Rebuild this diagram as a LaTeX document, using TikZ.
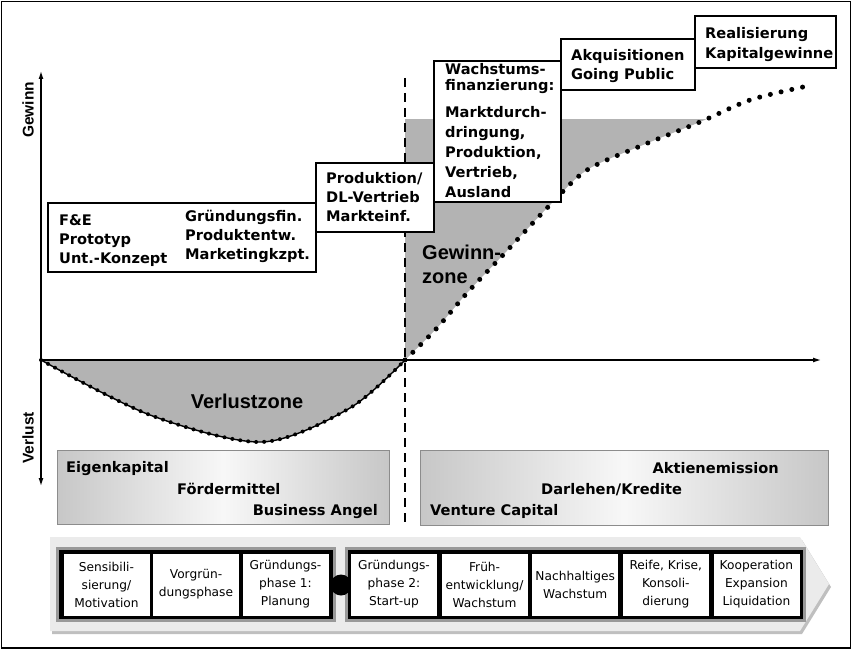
\documentclass[tikz,border=0pt]{standalone}
\usepackage{fontspec}
\setmainfont{DejaVu Sans}
\newfontfamily\arialfont{Liberation Sans}
\usetikzlibrary{positioning,arrows.meta}
\definecolor{zoneGray}{HTML}{B3B3B3}
\definecolor{frameGray}{HTML}{999999}
\definecolor{chevronGray}{HTML}{EBEBEB}

\begin{document}
\begin{tikzpicture}[x=1pt, y=-1pt,
    infoBox/.style={rectangle, draw=black, line width=2.6pt, fill=white, inner sep=0pt},
    infoText/.style={anchor=north west, inner sep=0pt, align=left, font=\bfseries\fontsize{14.6}{19}\selectfont},
    fundBox/.style={rectangle, draw=black!45, line width=0.8pt, left color=black!22, right color=black!22, middle color=black!3},
    fundText/.style={inner sep=0pt, font=\bfseries\fontsize{14.6}{16}\selectfont},
    zoneText/.style={inner sep=0pt, font=\arialfont\bfseries\fontsize{20}{24}\selectfont},
    axisLabel/.style={inner sep=0pt, rotate=90, font=\arialfont\bfseries\fontsize{15.5}{16}\selectfont},
    axisArrow/.style={-{Latex[length=8pt,width=5pt]}, line width=1.2pt},
    phaseBox/.style={rectangle, draw=black, line width=0.8pt, fill=white, minimum width=87pt, minimum height=63pt, inner sep=1pt, align=center, font=\fontsize{12.2}{18}\selectfont},
    dotLine/.style={line width=5pt, line cap=round, dash pattern=on 0pt off 11pt}
]
    \useasboundingbox (0,0) rectangle (853,650);
    \draw[line width=1.5pt] (1.5,1.5) rectangle (850.5,648);

    % zones
    \fill[zoneGray] plot[smooth] coordinates {(41,360) (150,415) (262,442) (350,408) (405,360)} -- cycle;
    \begin{scope}
        \clip (405,120) rectangle (830,360);
        \fill[zoneGray] plot[smooth] coordinates {(405,360) (437,328) (467,293) (503,255) (550,205) (587,170) (643,145) (700,122) (750,100) (803,87)} -- (405,80) -- cycle;
    \end{scope}

    % axes
    \coordinate (origin) at (41,360);
    \coordinate (yTop) at (41,71);
    \coordinate (yBottom) at (41,486);
    \coordinate (xEnd) at (821,360);
    \draw[axisArrow] (origin) -- (yTop);
    \draw[axisArrow] (origin) -- (yBottom);
    \draw[axisArrow] (origin) -- (xEnd);
    \node[axisLabel] (gewinnLabel) at (28,110) {Gewinn};
    \node[axisLabel] (verlustLabel) at (28,438) {Verlust};

    \coordinate (splitTop) at (405,78);
    \coordinate (splitBottom) at (405,525);
    \draw[line width=2pt, dash pattern=on 9pt off 6pt] (splitTop) -- (splitBottom);

    % curves
    \draw[line width=1.4pt] plot[smooth] coordinates {(41,360) (150,415) (262,442) (350,408) (405,360)};
    \draw[line width=4pt, line cap=round, dash pattern=on 0pt off 8pt] plot[smooth] coordinates {(41,360) (150,415) (262,442) (350,408) (405,360)};
    \draw[dotLine] plot[smooth] coordinates {(405,360) (437,328) (467,293) (503,255) (550,205) (587,170) (643,145) (700,122) (750,100) (803,87)};

    \node[zoneText] (lossZone) at (247,401) {Verlustzone};
    \node[zoneText, anchor=west, align=left] (gainZone) at (422,264) {Gewinn-\\zone};

    % Stufen
    \node[infoBox, minimum width=268pt, minimum height=69pt] (seedBox) at (182,237.5) {};
    \node[infoText] (seedLeft) at (59,214) {F\&E\\Prototyp\\Unt.-Konzept};
    \node[infoText] (seedRight) at (185,210) {Gründungsfin.\\Produktentw.\\Marketingkzpt.};

    \node[infoBox, minimum width=118pt, minimum height=69pt] (startBox) at (375,197.5) {};
    \node[infoText] (startText) at (326,172) {Produktion/\\DL-Vertrieb\\Markteinf.};

    \node[infoBox, minimum width=127pt, minimum height=141pt] (growBox) at (497.5,131.5) {};
    \node[infoText, font=\bfseries\fontsize{14.6}{16}\selectfont] (growHead) at (445,63) {Wachstums-\\finanzierung:};
    \node[infoText, font=\bfseries\fontsize{14.6}{20}\selectfont] (growText) at (445,106) {Marktdurch-\\dringung,\\Produktion,\\Vertrieb,\\Ausland};

    \node[infoBox, minimum width=134pt, minimum height=51pt] (ipoBox) at (628,64.5) {};
    \node[infoText] (ipoText) at (571,49) {Akquisitionen\\Going Public};

    \node[infoBox, minimum width=141pt, minimum height=52pt] (exitBox) at (765.5,42) {};
    \node[infoText, font=\bfseries\fontsize{14.6}{20}\selectfont] (exitText) at (705,27) {Realisierung\\Kapitalgewinne};

    % Finanzierung
    \node[fundBox, minimum width=332pt, minimum height=74pt] (earlyFunds) at (223,487) {};
    \node[fundText, anchor=base west] (eigenkapital) at (66,472) {Eigenkapital};
    \node[fundText, anchor=base west] (foerdermittel) at (177,494) {Fördermittel};
    \node[fundText, anchor=base east] (businessAngel) at (378,515.5) {Business Angel};

    \node[fundBox, minimum width=408pt, minimum height=75pt] (lateFunds) at (624,487.5) {};
    \node[fundText, anchor=base east] (aktien) at (779,473) {Aktienemission};
    \node[fundText, anchor=base west] (darlehen) at (541,494) {Darlehen/Kredite};
    \node[fundText, anchor=base west] (venture) at (430,515.5) {Venture Capital};

    % Phasen
    \fill[black!25] (52,540) -- (802,540) -- (831,587) -- (802,634) -- (52,634) -- cycle;
    \fill[chevronGray] (50,537) -- (800,537) -- (829,584) -- (800,631) -- (50,631) -- cycle;
    \filldraw[fill=black, draw=frameGray, line width=3pt] (57.5,548.5) rectangle (334.5,620.5);
    \filldraw[fill=black, draw=frameGray, line width=3pt] (346.5,548.5) rectangle (804.5,620.5);

    \node[phaseBox] (phaseA) at (106.5,584.5) {Sensibili-\\sierung/\\Motivation};
    \node[phaseBox] (phaseB) at (196,584.5) {Vorgrün-\\dungsphase};
    \node[phaseBox] (phaseC) at (285.5,584.5) {Gründungs-\\phase 1:\\Planung};
    \node[circle, fill=black, minimum size=21pt, inner sep=0pt] (milestone) at (341,585) {};
    \node[phaseBox] (phaseD) at (394,584.5) {Gründungs-\\phase 2:\\Start-up};
    \node[phaseBox] (phaseE) at (484.6,584.5) {Früh-\\entwicklung/\\Wachstum};
    \node[phaseBox] (phaseF) at (575.2,584.5) {Nachhaltiges\\Wachstum};
    \node[phaseBox] (phaseG) at (665.8,584.5) {Reife, Krise,\\Konsoli-\\dierung};
    \node[phaseBox] (phaseH) at (756.4,584.5) {Kooperation\\Expansion\\Liquidation};
\end{tikzpicture}
\end{document}
